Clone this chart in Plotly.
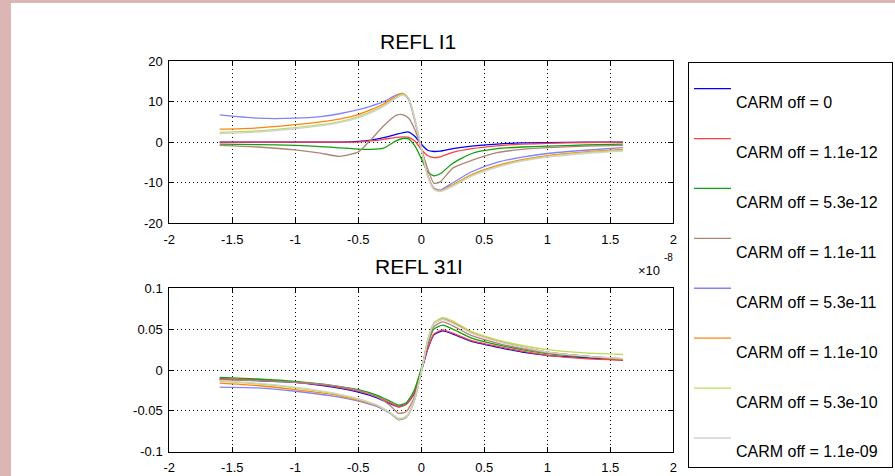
import plotly.graph_objects as go

# ---------------- data ----------------
series_names = ["CARM off = 0", "CARM off = 1.1e-12", "CARM off = 5.3e-12", "CARM off = 1.1e-11",
                "CARM off = 5.3e-11", "CARM off = 1.1e-10", "CARM off = 5.3e-10", "CARM off = 1.1e-09"]
series_colors = ["#0000ff", "#ff4040", "#10a010", "#b08474", "#8282ff", "#ff8410", "#b8dc5a", "#d2d2d2"]

# top panel: REFL I1 (x in units of 1e-8)
x_top = [-1.6, -1.3, -1.0, -0.8, -0.65, -0.5, -0.4, -0.3, -0.2, -0.15, -0.1, -0.05,
         0.0, 0.05, 0.1, 0.15, 0.25, 0.4, 0.6, 0.8, 1.0, 1.3, 1.6]
i1_off_0 = [0, 0, 0, 0, 0, 0.2, 0.5, 1.1, 1.9, 2.3, 2.5, 1.4,
            -0.5, -2.0, -2.3, -2.2, -1.6, -1.0, -0.5, -0.2, -0.1, 0, 0]
i1_off_1p1e12 = [0, 0, 0, 0, 0, 0, 0.3, 0.7, 1.2, 1.3, 1.2, 0.2,
                 -1.8, -3.3, -3.8, -3.6, -2.5, -1.6, -0.9, -0.5, -0.3, -0.1, 0]
i1_off_5p3e12 = [-0.5, -0.6, -0.8, -1.1, -1.4, -1.7, -1.8, -1.5, 0.3, 0.9, 0.8, -1.0,
                 -4.0, -7.3, -8.3, -7.8, -5.2, -2.8, -1.6, -1.2, -1.0, -0.7, -0.5]
i1_off_1p1e11 = [-0.8, -1.2, -1.9, -2.7, -3.5, -2.4, 0.6, 4.0, 6.6, 6.8, 5.9, 3.0,
                 -1.5, -6.5, -10.1, -9.8, -6.4, -4.5, -2.6, -1.8, -1.35, -1.0, -0.8]
i1_off_5p3e11 = [6.7, 5.9, 5.9, 6.3, 7.0, 8.0, 8.9, 10.0, 11.6, 12.0, 10.5, 5.0,
                 -1.5, -8.0, -11.3, -11.8, -10.0, -7.3, -5.0, -3.7, -2.8, -2.0, -1.35]
i1_off_1p1e10 = [3.2, 3.5, 4.3, 5.0, 5.7, 6.8, 8.0, 9.4, 11.3, 12.0, 10.8, 5.5,
                 -1.5, -8.2, -11.5, -12.0, -10.5, -8.0, -5.8, -4.3, -3.3, -2.4, -1.8]
i1_off_5p3e10 = [2.4, 2.8, 3.6, 4.3, 5.0, 6.3, 7.5, 9.0, 11.0, 11.8, 10.8, 5.5,
                 -1.5, -8.3, -11.6, -12.1, -10.7, -8.2, -6.0, -4.5, -3.5, -2.6, -2.0]
i1_off_1p1e9 = [2.1, 2.5, 3.3, 4.0, 4.8, 6.0, 7.2, 8.8, 10.8, 11.6, 10.8, 5.5,
                -1.5, -8.4, -11.7, -12.2, -10.9, -8.4, -6.2, -4.7, -3.7, -2.8, -2.2]

# bottom panel: REFL 31I
x_bot = [-1.6, -1.3, -1.0, -0.7, -0.5, -0.35, -0.25, -0.18, -0.12, -0.06, 0.0,
         0.05, 0.1, 0.17, 0.25, 0.4, 0.6, 0.8, 1.0, 1.3, 1.6]
q_off_0 = [-0.011, -0.013, -0.015, -0.021, -0.027, -0.034, -0.041, -0.045, -0.042, -0.030, -0.002,
           0.025, 0.043, 0.048, 0.044, 0.035, 0.028, 0.022, 0.018, 0.015, 0.012]
q_off_1p1e12 = [-0.011, -0.012, -0.015, -0.020, -0.026, -0.033, -0.040, -0.045, -0.042, -0.029, -0.001,
                0.026, 0.044, 0.049, 0.045, 0.036, 0.029, 0.023, 0.018, 0.014, 0.012]
q_off_5p3e12 = [-0.009, -0.011, -0.014, -0.019, -0.024, -0.031, -0.038, -0.043, -0.040, -0.026, 0.002,
                0.031, 0.050, 0.055, 0.050, 0.039, 0.031, 0.025, 0.020, 0.016, 0.013]
q_off_1p1e11 = [-0.012, -0.013, -0.015, -0.019, -0.025, -0.033, -0.043, -0.053, -0.051, -0.035, -0.002,
                0.033, 0.053, 0.059, 0.054, 0.042, 0.033, 0.026, 0.021, 0.017, 0.013]
q_off_5p3e11 = [-0.021, -0.022, -0.026, -0.032, -0.038, -0.045, -0.053, -0.061, -0.058, -0.040, -0.003,
                0.035, 0.057, 0.063, 0.058, 0.046, 0.036, 0.028, 0.022, 0.017, 0.014]
q_off_1p1e10 = [-0.016, -0.019, -0.024, -0.030, -0.037, -0.044, -0.052, -0.060, -0.057, -0.039, -0.002,
                0.036, 0.057, 0.062, 0.058, 0.046, 0.036, 0.028, 0.022, 0.017, 0.013]
q_off_5p3e10 = [-0.014, -0.017, -0.022, -0.029, -0.036, -0.043, -0.052, -0.060, -0.058, -0.040, -0.003,
                0.036, 0.058, 0.064, 0.060, 0.047, 0.037, 0.030, 0.025, 0.021, 0.019]
q_off_1p1e9 = [-0.013, -0.016, -0.021, -0.028, -0.035, -0.043, -0.052, -0.059, -0.057, -0.039, -0.002,
               0.035, 0.057, 0.062, 0.057, 0.045, 0.035, 0.028, 0.022, 0.017, 0.014]

top_series = [i1_off_0, i1_off_1p1e12, i1_off_5p3e12, i1_off_1p1e11,
              i1_off_5p3e11, i1_off_1p1e10, i1_off_5p3e10, i1_off_1p1e9]
bot_series = [q_off_0, q_off_1p1e12, q_off_5p3e12, q_off_1p1e11,
              q_off_5p3e11, q_off_1p1e10, q_off_5p3e10, q_off_1p1e9]

x_tick_vals = [-2, -1.5, -1, -0.5, 0, 0.5, 1, 1.5, 2]
x_tick_text = ["-2", "-1.5", "-1", "-0.5", "0", "0.5", "1", "1.5", "2"]
y_top_vals = [-20, -10, 0, 10, 20]
y_top_text = ["-20", "-10", "0", "10", "20"]
y_bot_vals = [-0.1, -0.05, 0, 0.05, 0.1]
y_bot_text = ["-0.1", "-0.05", "0", "0.05", "0.1"]

# ---------------- figure ----------------
W, H = 895, 476
FONT = "Liberation Sans, Arial, sans-serif"

def px_x(p):
    return p / W

def px_y(p):
    return 1 - p / H

fig = go.Figure()
for i, (name, col) in enumerate(zip(series_names, series_colors)):
    fig.add_trace(go.Scatter(
        x=x_top, y=top_series[i], mode="lines", xaxis="x", yaxis="y",
        line=dict(color=col, width=1.3, shape="spline", smoothing=0.6),
        name="<br><span style='font-size:16px'>" + name + "&nbsp;&nbsp;</span>",
        legendgroup="g%d" % i, showlegend=True))
for i, (name, col) in enumerate(zip(series_names, series_colors)):
    fig.add_trace(go.Scatter(
        x=x_bot, y=bot_series[i], mode="lines", xaxis="x2", yaxis="y2",
        line=dict(color=col, width=1.3, shape="spline", smoothing=0.6),
        name=name, legendgroup="g%d" % i, showlegend=False))

axis_common = dict(showline=True, linecolor="black", linewidth=1, mirror="ticks",
                   ticks="inside", ticklen=5, tickcolor="black", tickwidth=1,
                   showgrid=True, gridcolor="black", gridwidth=1, griddash="1px,3px",
                   zeroline=False, automargin=False,
                   tickfont=dict(family=FONT, size=13, color="black"))

xdom = [px_x(169.3), px_x(673.3)]
fig.update_layout(
    width=W, height=H,
    margin=dict(l=0, r=0, t=0, b=0, autoexpand=False),
    paper_bgcolor="#dcb5b5", plot_bgcolor="white",
    showlegend=True,
    xaxis=dict(domain=xdom, range=[-2, 2], tickvals=x_tick_vals, ticktext=x_tick_text,
               anchor="y", ticklabelstandoff=4, **axis_common),
    yaxis=dict(domain=[px_y(223.3), px_y(61)], range=[-20, 20], tickvals=y_top_vals,
               ticktext=y_top_text, anchor="x", ticklabelstandoff=3, **axis_common),
    xaxis2=dict(domain=xdom, range=[-2, 2], tickvals=x_tick_vals, ticktext=x_tick_text,
                anchor="y2", ticklabelstandoff=4, **axis_common),
    yaxis2=dict(domain=[px_y(451.7), px_y(288.3)], range=[-0.1, 0.1], tickvals=y_bot_vals,
                ticktext=y_bot_text, anchor="x2", ticklabelstandoff=3, **axis_common),
    legend=dict(x=px_x(688), xanchor="left", y=px_y(62), yanchor="top",
                bgcolor="white", bordercolor="black", borderwidth=1,
                font=dict(family=FONT, size=11.5, color="black"),
                title=dict(text="&nbsp;", font=dict(family=FONT, size=9)),
                itemwidth=37, valign="top", tracegroupgap=17, traceorder="grouped"),
    shapes=[dict(type="rect", xref="paper", yref="paper", x0=px_x(11), x1=1.5,
                 y0=-0.5, y1=px_y(3), fillcolor="white", line=dict(width=0), layer="below")],
    annotations=[
        dict(text="REFL I1", x=px_x(418), y=px_y(41), xref="paper", yref="paper",
             showarrow=False, xanchor="center", yanchor="middle",
             font=dict(family=FONT, size=21, color="black")),
        dict(text="REFL 31I", x=px_x(418.5), y=px_y(266), xref="paper", yref="paper",
             showarrow=False, xanchor="center", yanchor="middle",
             font=dict(family=FONT, size=21, color="black")),
        dict(text="×10", x=px_x(636), y=px_y(270), xref="paper", yref="paper",
             showarrow=False, xanchor="left", yanchor="middle",
             font=dict(family=FONT, size=13, color="black")),
        dict(text="-8", x=px_x(662), y=px_y(257), xref="paper", yref="paper",
             showarrow=False, xanchor="left", yanchor="middle",
             font=dict(family=FONT, size=10, color="black")),
    ],
)

fig.write_html("out.html",
               config={"displayModeBar": False},
               post_script="document.body.style.margin='0';document.body.style.overflow='hidden';")
